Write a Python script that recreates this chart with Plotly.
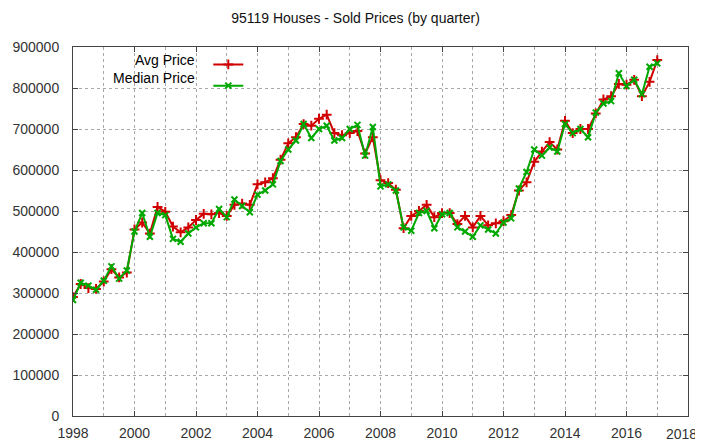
'''
    Quarterly sold prices of houses in 95119, gnuplot-like look.
'''

import pandas as pd
import plotly.graph_objects as go

# one point per quarter, 1998Q1 .. 2017Q1
quarters = pd.period_range("1998Q1", "2017Q1", freq="Q")

avg_price = [
    290000, 322000, 312000, 310000, 328000, 358000, 338000, 350000,
    455000, 472000, 445000, 510000, 498000, 462000, 448000, 460000,
    478000, 493000, 492000, 495000, 488000, 515000, 518000, 515000,
    565000, 570000, 580000, 625000, 665000, 680000, 712000, 708000,
    725000, 735000, 690000, 685000, 690000, 695000, 640000, 680000,
    575000, 568000, 552000, 458000, 488000, 500000, 515000, 485000,
    495000, 495000, 468000, 488000, 460000, 488000, 465000, 470000,
    475000, 490000, 550000, 570000, 620000, 645000, 668000, 650000,
    720000, 690000, 700000, 700000, 738000, 772000, 780000, 810000,
    808000, 820000, 780000, 815000, 868000,
]

median_price = [
    283000, 325000, 318000, 308000, 330000, 365000, 335000, 355000,
    450000, 495000, 437000, 495000, 490000, 432000, 425000, 445000,
    460000, 470000, 470000, 505000, 485000, 528000, 512000, 497000,
    540000, 550000, 565000, 622000, 650000, 672000, 712000, 678000,
    700000, 708000, 672000, 678000, 700000, 710000, 635000, 705000,
    560000, 565000, 550000, 460000, 452000, 495000, 500000, 458000,
    492000, 495000, 460000, 450000, 437000, 465000, 455000, 445000,
    472000, 482000, 555000, 595000, 650000, 635000, 655000, 645000,
    712000, 690000, 700000, 680000, 740000, 762000, 768000, 836000,
    805000, 820000, 785000, 852000, 860000,
]

legend_names = ["Avg Price", "Median Price"]

X_MIN, X_MAX = 1998, 2018

RED = "#d00000"
GREEN = "#00a800"
FONT = "Liberation Sans, Arial, sans-serif"

years = [q.year + (q.quarter - 1) / 4 for q in quarters]

fig = go.Figure()
fig.add_trace(go.Scatter(
    x=years, y=avg_price, mode="lines+markers", name="",
    line=dict(color=RED, width=2),
    marker=dict(symbol="cross-thin", size=7, line=dict(color=RED, width=2)),
))
fig.add_trace(go.Scatter(
    x=years, y=median_price, mode="lines+markers", name="",
    line=dict(color=GREEN, width=2),
    marker=dict(symbol="x-thin", size=6, line=dict(color=GREEN, width=2)),
))

# gnuplot puts the key text left of the sample, so the text is an annotation
for i, label in enumerate(legend_names):
    fig.add_annotation(
        text=label, xref="paper", yref="paper",
        x=0.201, y=0.965 - i * 0.049, xanchor="right", yanchor="middle",
        showarrow=False, font=dict(family=FONT, size=14, color="#000"),
    )

# last x tick label sits at the very edge, plotly would hide it
fig.add_annotation(
    text=str(X_MAX), xref="x", yref="paper", x=X_MAX, y=0,
    xanchor="center", yanchor="middle", xshift=-7, yshift=-18,
    showarrow=False, font=dict(family=FONT, size=14, color="#333"),
)

grid = dict(gridcolor="#a8a8a8", griddash="dot", gridwidth=1)

# the page body adds an 8px offset, so the figure is sized to the rest
fig.update_layout(
    width=695, height=434,
    margin=dict(l=65, r=15, t=39, b=26, autoexpand=False),
    paper_bgcolor="white", plot_bgcolor="white",
    font=dict(family=FONT, size=14, color="#333"),
    title=dict(text="95119 Houses - Sold Prices (by quarter)",
               x=0.5, xanchor="center", y=0.977, yanchor="middle",
               font=dict(family=FONT, size=14, color="#111")),
    showlegend=True,
    legend=dict(x=0.22, y=0.995, xanchor="left", yanchor="top",
                bgcolor="rgba(0,0,0,0)", font=dict(size=14),
                itemwidth=30, tracegroupgap=0),
    xaxis=dict(range=[X_MIN, X_MAX], dtick=2, tick0=X_MIN, showgrid=True, **grid,
               minor=dict(dtick=1, showgrid=True, **grid),
               showline=True, linecolor="#444", linewidth=1, mirror="ticks",
               ticks="inside", ticklen=5, tickcolor="#444",
               zeroline=False, ticklabelstandoff=4, automargin=False),
    yaxis=dict(range=[0, 900000], dtick=100000, showgrid=True, **grid,
               showline=True, linecolor="#444", linewidth=1, mirror="ticks",
               ticks="inside", ticklen=5, tickcolor="#444",
               zeroline=False, tickformat="d", ticklabelstandoff=10,
               automargin=False),
)

fig.write_html("out.html")
